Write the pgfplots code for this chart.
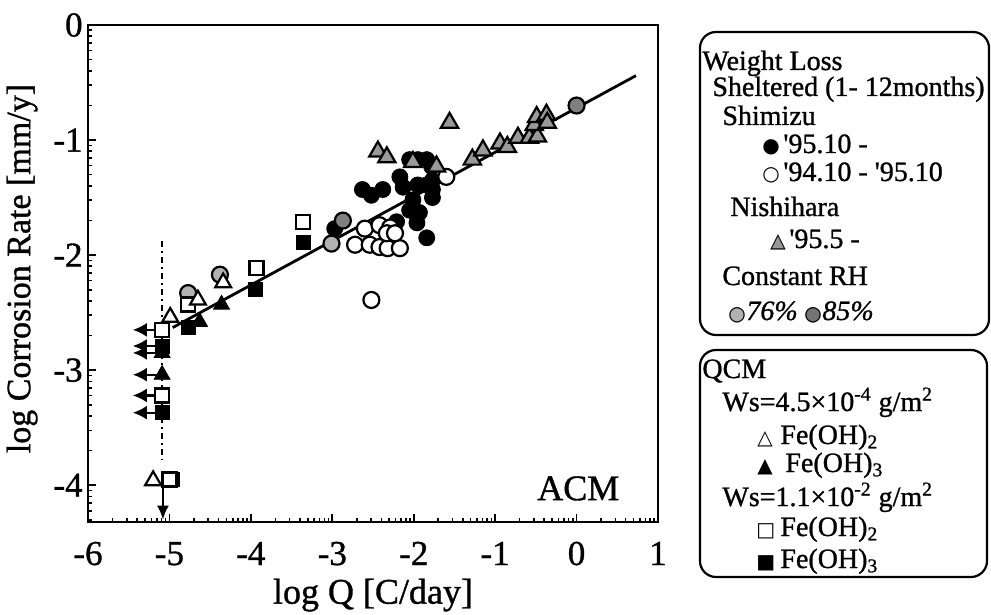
\documentclass[border=0pt]{standalone}
\usepackage{fontspec}
\setmainfont{Liberation Serif}[FakeBold=1]
\newfontfamily\sym{DejaVu Sans}
\usepackage{pgfplots}
\pgfplotsset{compat=1.18}
\usetikzlibrary{arrows.meta}

\newcommand{\lfont}{\fontsize{14}{16}\selectfont}
\newcommand{\sfont}{\sym\fontsize{10}{10}\selectfont}

\begin{document}
\begin{tikzpicture}
\useasboundingbox (0,0) rectangle (495.5pt,-307.5pt);
\begin{axis}[
    at={(44pt,-261pt)}, anchor=south west,
    scale only axis, width=285pt, height=248.5pt,
    xmin=-6, xmax=1, ymin=-4.32, ymax=0,
    axis line style={line width=1.2pt},
    xtick={-6,...,1}, ytick={-4,...,0},
    minor xtick={-5.699,-5.523,-5.398,-5.301,-5.222,-5.155,-5.097,-5.046,
        -4.699,-4.523,-4.398,-4.301,-4.222,-4.155,-4.097,-4.046,
        -3.699,-3.523,-3.398,-3.301,-3.222,-3.155,-3.097,-3.046,
        -2.699,-2.523,-2.398,-2.301,-2.222,-2.155,-2.097,-2.046,
        -1.699,-1.523,-1.398,-1.301,-1.222,-1.155,-1.097,-1.046,
        -0.699,-0.523,-0.398,-0.301,-0.222,-0.155,-0.097,-0.046,
        0.301,0.477,0.602,0.699,0.778,0.845,0.903,0.954},
    minor ytick={-4.301,-4.222,-4.155,-4.097,-4.046,
        -3.699,-3.523,-3.398,-3.301,-3.222,-3.155,-3.097,-3.046,
        -2.699,-2.523,-2.398,-2.301,-2.222,-2.155,-2.097,-2.046,
        -1.699,-1.523,-1.398,-1.301,-1.222,-1.155,-1.097,-1.046,
        -0.699,-0.523,-0.398,-0.301,-0.222,-0.155,-0.097,-0.046},
    tick align=inside, tick pos=left,
    major tick length=4pt, minor tick length=2pt,
    every tick/.style={black, line width=0.8pt},
    /pgf/number format/assume math mode=true,
    ticklabel style={font=\fontsize{17.5}{20}\selectfont},
    xticklabel style={anchor=base, yshift=-21.5pt},
    yticklabel style={anchor=east, inner sep=0pt, xshift=-2.5pt},
    xlabel={log Q [C/day]},
    ylabel={log Corrosion Rate [mm/y]},
    every axis x label/.style={at={(axis description cs:0.5,-0.147)}, anchor=center, font=\fontsize{18}{21}\selectfont},
    every axis y label/.style={at={(axis description cs:-0.1158,0.51)}, anchor=center, rotate=90, font=\fontsize{17}{20}\selectfont},
    clip=false,
]
% QCM detection limit
\addplot[line width=1pt, dash dot] coordinates {(-5.09,-1.88) (-5.09,-3.78)};
% upper-limit arrows
\addplot[line width=1.2pt, quiver={u=-0.36, v=0, every arrow/.append style={-{Latex[length=7pt,width=7pt]}}}]
    coordinates {(-5.09,-2.65) (-5.09,-2.79) (-5.09,-2.85) (-5.09,-3.04) (-5.09,-3.22) (-5.09,-3.37)};
\addplot[line width=1.2pt, quiver={u=0, v=-0.3, every arrow/.append style={-{Latex[length=7pt,width=6pt]}}}]
    coordinates {(-5.08,-4.0)};
% fit line
\addplot[line width=1.4pt] coordinates {(-4.96,-2.63) (0.73,-0.44)};

% Shimizu '95.10 -
\addplot[only marks, mark=*, mark size=4pt, mark options={fill=black, draw=black}]
    coordinates {(-2.63,-1.43) (-2.52,-1.48) (-2.38,-1.43) (-2.17,-1.32) (-2.13,-1.41)
    (-2.05,-1.17) (-1.95,-1.17) (-1.84,-1.17) (-1.78,-1.23) (-1.95,-1.39) (-1.84,-1.39)
    (-1.77,-1.43) (-1.77,-1.50) (-2.01,-1.52) (-2.05,-1.61) (-1.93,-1.63) (-1.96,-1.72)
    (-1.84,-1.85) (-2.97,-1.77) (-2.21,-1.71) (-1.77,-1.35)};
% Shimizu '94.10 - '95.10
\addplot[only marks, mark=*, mark size=4pt, mark options={fill=white, draw=black, line width=1.1pt}]
    coordinates {(-2.72,-1.91) (-2.54,-1.91) (-2.42,-1.93) (-2.32,-1.94) (-2.17,-1.94)
    (-2.60,-1.77) (-2.42,-1.74) (-2.29,-1.76) (-2.33,-1.81) (-2.23,-1.81) (-2.52,-2.39)
    (-1.60,-1.32)};
% Nishihara '95.5 -
\addplot[only marks, mark=triangle*, mark size=5pt, mark options={fill=black!40, draw=black, line width=1.1pt}]
    coordinates {(-2.44,-1.10) (-2.33,-1.15) (-1.56,-0.85) (-1.72,-1.23) (-2.01,-1.19)
    (-1.28,-1.17) (-1.15,-1.09) (-0.94,-1.03) (-0.85,-1.06) (-0.72,-0.98) (-0.58,-0.98)
    (-0.48,-0.97) (-0.52,-0.87) (-0.49,-0.80) (-0.37,-0.78) (-0.36,-0.85)};
% Constant RH 76%
\addplot[only marks, mark=*, mark size=4pt, mark options={fill=black!30, draw=black, line width=1.1pt}]
    coordinates {(-4.77,-2.33) (-4.38,-2.17) (-3.01,-1.90)};
% Constant RH 85%
\addplot[only marks, mark=*, mark size=4pt, mark options={fill=black!50, draw=black, line width=1.1pt}]
    coordinates {(-2.87,-1.70) (0.0,-0.70)};
% QCM Ws=1.1e-2 Fe(OH)3
\addplot[only marks, mark=square*, mark size=3.5pt, mark options={fill=black, draw=black}]
    coordinates {(-5.09,-2.79) (-5.09,-3.37) (-4.77,-2.63) (-3.95,-2.30) (-3.36,-1.89) (-4.96,-3.95)};
% QCM Ws=1.1e-2 Fe(OH)2
\addplot[only marks, mark=square*, mark size=3.5pt, mark options={fill=white, draw=black, line width=1.1pt}]
    coordinates {(-5.09,-2.65) (-5.09,-3.22) (-4.77,-2.43) (-3.93,-2.11) (-3.36,-1.71) (-5.0,-3.95)};
% QCM Ws=4.5e-4 Fe(OH)3
\addplot[only marks, mark=triangle*, mark size=4.6pt, mark options={fill=black, draw=black}]
    coordinates {(-5.09,-2.85) (-5.09,-3.04) (-4.63,-2.58) (-4.36,-2.43)};
% QCM Ws=4.5e-4 Fe(OH)2
\addplot[only marks, mark=triangle*, mark size=4.6pt, mark options={fill=white, draw=black, line width=1.1pt}]
    coordinates {(-4.99,-2.54) (-4.65,-2.39) (-4.34,-2.24) (-5.2,-3.96)};

\node[anchor=base east, inner sep=0pt, font=\fontsize{18}{20}\selectfont] at (axis cs:0.53,-4.13) {ACM};
\end{axis}

% legend boxes
\draw[line width=1.1pt, rounded corners=8pt] (350pt,-16pt) rectangle (494.5pt,-167.5pt);
\draw[line width=1.1pt, rounded corners=8pt] (350pt,-175pt) rectangle (493.5pt,-288.5pt);

\begin{scope}[every node/.style={anchor=base west, inner sep=0pt, font=\lfont}]
\node at (351pt,-35pt) {Weight Loss};
\node at (356pt,-48pt) {Sheltered (1- 12months)};
\node at (361pt,-62.5pt) {Shimizu};
\node at (381pt,-76.5pt) {\sfont ●};
\node at (391.5pt,-76.5pt) {\textquotesingle 95.10 -};
\node at (381pt,-90.5pt) {\sfont ○};
\node at (391.5pt,-90.5pt) {\textquotesingle 94.10 - \textquotesingle 95.10};
\node at (365pt,-108pt) {Nishihara};
\node at (385pt,-124pt) {\sfont\rlap{\textcolor{black!40}{▲}}△};
\node at (394.5pt,-124pt) {\textquotesingle 95.5 -};
\node at (361pt,-142.5pt) {Constant RH};
\node at (364pt,-160pt) {\sfont\rlap{\textcolor{black!30}{●}}○};
\node at (373pt,-160pt) {\textit{76\%}};
\node at (402pt,-160pt) {\sfont\rlap{\textcolor{black!55}{●}}○};
\node at (411pt,-160pt) {\textit{85\%}};

\node at (351pt,-189pt) {QCM};
\node at (361pt,-205.5pt) {Ws=4.5×10\textsuperscript{-4} g/m\textsuperscript{2}};
\node at (378.5pt,-222pt) {\sfont △};
\node at (390pt,-222pt) {Fe(OH)\textsubscript{2}};
\node at (378.5pt,-236pt) {\sfont ▲};
\node at (392.5pt,-236pt) {Fe(OH)\textsubscript{3}};
\node at (361pt,-253pt) {Ws=1.1×10\textsuperscript{-2} g/m\textsuperscript{2}};
\node at (378pt,-268pt) {\sfont □};
\node at (390pt,-268pt) {Fe(OH)\textsubscript{2}};
\node at (378pt,-284pt) {\sfont ■};
\node at (390pt,-284pt) {Fe(OH)\textsubscript{3}};
\end{scope}
\end{tikzpicture}
\end{document}
